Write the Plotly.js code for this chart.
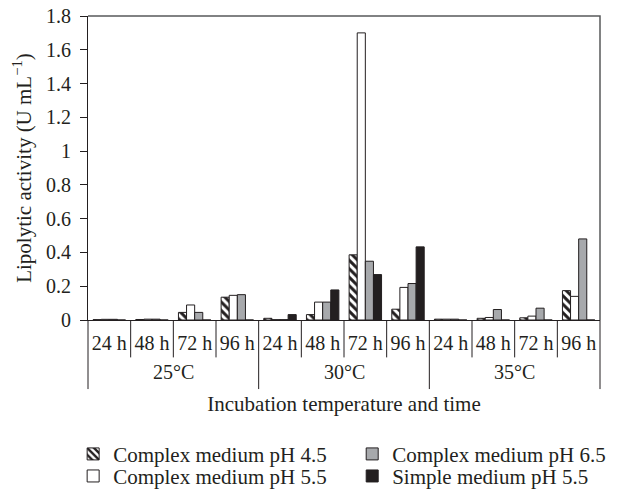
<!DOCTYPE html>
<html>
<head>
<meta charset="utf-8">
<script src="https://cdn.plot.ly/plotly-3.0.1.min.js"></script>
<style>html,body{margin:0;padding:0;background:#fff;}#chart{width:618px;height:504px;}</style>
</head>
<body>
<div id="chart"></div>
<script>
// Category labels
const temperatures = ["25°C","25°C","25°C","25°C","30°C","30°C","30°C","30°C","35°C","35°C","35°C","35°C"];
const hours = ["24 h","48 h","72 h","96 h","24 h","48 h","72 h","96 h","24 h","48 h","72 h","96 h"];

// Series values (U mL-1)
const complexPH45 = [0.002, 0.003, 0.045, 0.135, 0.010, 0.032, 0.386, 0.064, 0.005, 0.010, 0.013, 0.174];
const complexPH55 = [0.004, 0.005, 0.089, 0.146, 0.002, 0.106, 1.700, 0.193, 0.005, 0.015, 0.023, 0.140];
const complexPH65 = [0.004, 0.005, 0.045, 0.150, 0.002, 0.106, 0.348, 0.216, 0.005, 0.062, 0.070, 0.480];
const simplePH55  = [0, 0, 0, 0, 0.032, 0.178, 0.269, 0.433, 0, 0, 0, 0];

const seriesNames = ["Complex medium pH 4.5","Complex medium pH 5.5","Complex medium pH 6.5","Simple medium pH 5.5"];

const FONT = "Liberation Serif, Times New Roman, serif";
const INK = "#231f20";
const FS = 20;
const lineStyle = {color: INK, width: 1};

// unique category keys (temperature + time); only the time is shown as tick text
const catKeys = temperatures.map((t, i) => t + " " + hours[i]);
const N = catKeys.length;

const traces = [
  {type: "bar", name: seriesNames[0], x: catKeys, y: complexPH45, legend: "legend",
   marker: {color: "#ffffff", line: lineStyle,
            pattern: {shape: "\\", fgcolor: INK, bgcolor: "#ffffff", size: 6, solidity: 0.5}}},
  {type: "bar", name: seriesNames[1], x: catKeys, y: complexPH55, legend: "legend2",
   marker: {color: "#ffffff", line: lineStyle}},
  {type: "bar", name: seriesNames[2], x: catKeys, y: complexPH65, legend: "legend3",
   marker: {color: "#a7a9ac", line: lineStyle}},
  {type: "bar", name: seriesNames[3], x: catKeys, y: simplePH55, legend: "legend4",
   marker: {color: INK, line: lineStyle}}
];

// geometry of the category dividers below the axis (paper units)
const plotH = 504 - 16 - 171;
const hourDivY = -39 / plotH;
const groupDivY = -72 / plotH;
const shapes = [
  {type: "path", xref: "paper", yref: "paper", path: "M 0 1 L 1 1 L 1 0",
   line: {color: "#58595b", width: 1.5}}
];
for (let b = 0; b <= N; b++) {
  const isGroup = b === 0 || b === N || temperatures[b] !== temperatures[b - 1];
  shapes.push({type: "line", xref: "paper", yref: "paper",
               x0: b / N, x1: b / N, y0: 0, y1: isGroup ? groupDivY : hourDivY,
               line: {color: INK, width: 1}});
}

// temperature group labels centred under their categories
const uniqueTemps = [...new Set(temperatures)];
const annotations = uniqueTemps.map(t => {
  const idx = temperatures.map((v, i) => v === t ? i : -1).filter(i => i >= 0);
  const mid = (idx[0] + idx[idx.length - 1]) / 2;
  return {xref: "x", yref: "paper", x: mid, y: -54 / plotH, yanchor: "middle", xanchor: "center",
          text: t, showarrow: false, font: {family: FONT, size: FS, color: INK}};
});

const legendBase = {orientation: "v", xanchor: "left", yanchor: "middle",
                    font: {family: FONT, size: 21, color: INK}, bgcolor: "rgba(0,0,0,0)"};
const row1 = (333 - 473) / plotH, row2 = (333 - 496) / plotH;

const layout = {
  width: 618, height: 504,
  margin: {l: 88, r: 7, t: 16, b: 171},
  paper_bgcolor: "#ffffff", plot_bgcolor: "#ffffff",
  font: {family: FONT, size: FS, color: INK},
  barmode: "group", bargap: 0.24, bargroupgap: 0,
  showlegend: true,
  xaxis: {
    type: "category",
    tickmode: "array", tickvals: catKeys, ticktext: hours,
    showline: true, linecolor: INK, linewidth: 1,
    ticks: "", ticklabelstandoff: 5,
    showgrid: false, zeroline: false,
    tickfont: {family: FONT, size: FS, color: INK},
    title: {text: "Incubation temperature and time", font: {family: FONT, size: 21, color: INK}, standoff: 43},
    automargin: false
  },
  yaxis: {
    range: [0, 1.8], dtick: 0.2, tick0: 0,
    showline: true, linecolor: INK, linewidth: 1,
    ticks: "outside", ticklen: 7, tickcolor: INK, ticklabelstandoff: 5,
    showgrid: false, zeroline: false,
    tickfont: {family: FONT, size: FS, color: INK},
    title: {text: "Lipolytic activity (U mL<sup>−1</sup>)", font: {family: FONT, size: 21, color: INK}, standoff: 8},
    automargin: false
  },
  shapes: shapes,
  annotations: annotations,
  legend:  Object.assign({}, legendBase, {x: -0.029, y: row1}),
  legend2: Object.assign({}, legendBase, {x: -0.029, y: row2}),
  legend3: Object.assign({}, legendBase, {x: 0.516, y: row1}),
  legend4: Object.assign({}, legendBase, {x: 0.516, y: row2})
};

Plotly.newPlot("chart", traces, layout, {displayModeBar: false, staticPlot: true});
</script>
</body>
</html>
